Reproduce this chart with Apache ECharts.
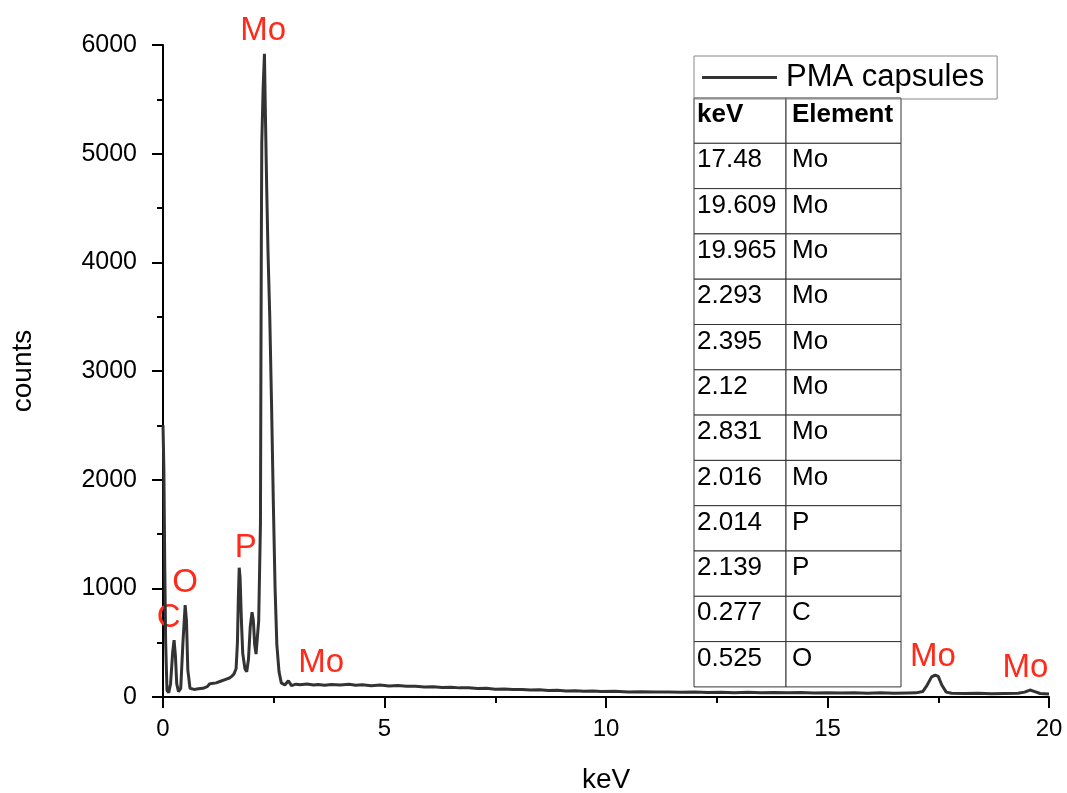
<!DOCTYPE html>
<html>
<head>
<meta charset="utf-8">
<script src="https://cdn.jsdelivr.net/npm/echarts@6/dist/echarts.min.js"></script>
<style>
html,body{margin:0;padding:0;background:#fff;}
#chart{width:1067px;height:793px;}
</style>
</head>
<body>
<div id="chart"></div>
<script>
// ---- data ----
const seriesName = 'PMA capsules';
const energyKeV = [
  0.00,0.02,0.04,0.06,0.09,0.13,0.17,0.22,0.25,0.28,0.31,0.35,0.40,0.45,0.50,0.53,0.56,0.61,
  0.70,0.80,0.90,1.00,1.05,1.10,1.20,1.30,1.40,1.50,1.55,1.60,1.65,1.68,1.70,1.72,1.74,1.77,1.80,1.85,1.89,
  1.93,1.97,2.01,2.04,2.07,2.10,2.16,2.20,2.21,2.22,2.23,2.26,2.29,2.31,2.34,2.37,2.41,2.45,2.49,2.53,2.57,
  2.62,2.67,2.75,2.83,2.90,
  3.00,3.10,3.25,3.40,3.50,3.65,3.80,4.00,4.20,4.35,4.50,4.70,4.90,5.10,5.30,5.50,5.70,5.90,6.10,6.30,6.50,
  6.70,6.90,7.10,7.30,7.50,7.70,7.90,8.10,8.30,8.50,8.70,8.90,9.10,9.30,9.50,9.70,9.90,10.2,10.5,10.8,11.1,
  11.4,11.7,12.0,12.3,12.6,12.9,13.2,13.5,13.8,14.1,14.4,14.7,15.0,15.3,15.6,15.9,16.2,16.5,16.8,17.0,
  17.15,17.25,17.35,17.43,17.50,17.58,17.68,17.80,18.1,18.4,18.7,19.0,19.3,19.45,19.57,19.68,19.8,20.0
];
const counts = [
  2500,2100,1200,500,60,40,120,420,524,380,120,50,80,500,846,700,250,80,
  70,75,80,95,120,125,130,145,160,175,190,210,260,500,900,1190,1100,700,400,260,233,
  350,650,780,700,480,395,700,1600,3000,4200,5100,5600,5920,5400,4700,4100,3500,2700,1800,1000,480,
  230,130,110,150,105,
  118,112,120,110,116,108,114,110,117,108,112,104,110,102,106,98,100,92,95,88,90,
  84,86,78,80,72,74,68,70,64,66,60,62,56,58,52,55,50,52,47,49,45,
  47,43,45,41,44,40,43,39,42,38,41,37,40,36,39,35,38,35,37,38,
  50,110,185,202,190,110,45,34,32,34,30,32,34,45,64,50,32,28
];
// peak annotations: [keV, counts, text]
const peakLabelKeV = [2.26, 1.87, 0.50, 0.13, 3.57, 17.38, 19.47];
const peakLabelCounts = [6130, 1370, 1050, 727, 318, 368, 267];
const peakLabelText = ['Mo', 'P', 'O', 'C', 'Mo', 'Mo', 'Mo'];
// table
const tableHeader = ['keV', 'Element'];
const tableKeV = ['17.48','19.609','19.965','2.293','2.395','2.12','2.831','2.016','2.014','2.139','0.277','0.525'];
const tableElement = ['Mo','Mo','Mo','Mo','Mo','Mo','Mo','Mo','P','P','C','O'];
// axes
const xMin = 0, xMax = 20, xStep = 5;
const yMin = 0, yMax = 6000, yStep = 1000;

// ---- build ----
const FONT = '"Liberation Sans", Arial, sans-serif';
const spectrum = energyKeV.map((e, i) => [e, counts[i]]);
const labelData = peakLabelKeV.map((e, i) => [e, peakLabelCounts[i], peakLabelText[i]]);

const tableLeft = 694, tableTop = 98, rowH = 45.3, col1W = 92, col2W = 115;
const rows = [tableHeader].concat(tableKeV.map((k, i) => [k, tableElement[i]]));
const tableEls = [];
rows.forEach((r, i) => {
  const y = tableTop + i * rowH;
  tableEls.push({type:'rect', shape:{x:tableLeft, y:y, width:col1W, height:rowH},
    style:{fill:'#fff', stroke:'#333', lineWidth:1}});
  tableEls.push({type:'rect', shape:{x:tableLeft + col1W, y:y, width:col2W, height:rowH},
    style:{fill:'#fff', stroke:'#333', lineWidth:1}});
  const bold = i === 0 ? 'bold' : 'normal';
  tableEls.push({type:'text', x:tableLeft + 3, y:y + 17,
    style:{text:r[0], fill:'#000', font: bold + ' 26px ' + FONT, textVerticalAlign:'middle'}});
  tableEls.push({type:'text', x:tableLeft + col1W + 6, y:y + 17,
    style:{text:r[1], fill:'#000', font: bold + ' 26px ' + FONT, textVerticalAlign:'middle'}});
});

const chart = echarts.init(document.getElementById('chart'), null, {renderer:'canvas'});
chart.setOption({
  backgroundColor:'#fff',
  animation:false,
  grid:{left:163, right:18, top:45, bottom:96, containLabel:false, outerBoundsMode:'none'},
  legend:{
    data:[seriesName], left:694, top:56,
    borderColor:'#888', borderWidth:1, borderRadius:0,
    padding:[6, 13, 6, 8],
    icon:'rect', itemWidth:75, itemHeight:3, itemGap:0,
    textStyle:{fontFamily:FONT, fontSize:31, color:'#000', padding:[0,0,0,4]}
  },
  xAxis:{
    type:'value', min:xMin, max:xMax, interval:xStep,
    name:'keV', nameLocation:'middle', nameGap:69,
    nameTextStyle:{fontFamily:FONT, fontSize:28, color:'#000'},
    axisLine:{show:true, onZero:false, lineStyle:{color:'#000', width:2}},
    axisTick:{show:true, inside:false, length:11, lineStyle:{color:'#000', width:2}},
    minorTick:{show:true, splitNumber:2, length:6, lineStyle:{color:'#000', width:2}},
    splitLine:{show:false},
    axisLabel:{fontFamily:FONT, fontSize:24, color:'#000', margin:20, formatter:v => String(v)}
  },
  yAxis:{
    type:'value', min:yMin, max:yMax, interval:yStep,
    name:'counts', nameLocation:'middle', nameGap:126, nameRotate:90,
    nameTextStyle:{fontFamily:FONT, fontSize:28, color:'#000'},
    axisLine:{show:true, onZero:false, lineStyle:{color:'#000', width:2}},
    axisTick:{show:true, inside:false, length:11, lineStyle:{color:'#000', width:2}},
    minorTick:{show:true, splitNumber:2, length:6, lineStyle:{color:'#000', width:2}},
    splitLine:{show:false},
    axisLabel:{fontFamily:FONT, fontSize:25, color:'#000', margin:26, formatter:v => String(v)}
  },
  series:[
    {
      name:seriesName, type:'line', data:spectrum, showSymbol:false, symbol:'none',
      lineStyle:{color:'#333', width:3}, itemStyle:{color:'#333'}, smooth:false
    },
    {
      name:'labels', type:'scatter', data:labelData, symbolSize:1, clip:false, silent:true,
      itemStyle:{color:'rgba(0,0,0,0)'},
      label:{show:true, position:'inside', formatter:p => p.data[2], opacity:1,
        textBorderWidth:0, fontFamily:FONT, fontSize:33, color:'#ff2a1a'}
    }
  ],
  graphic:{elements:tableEls}
});
</script>
</body>
</html>
